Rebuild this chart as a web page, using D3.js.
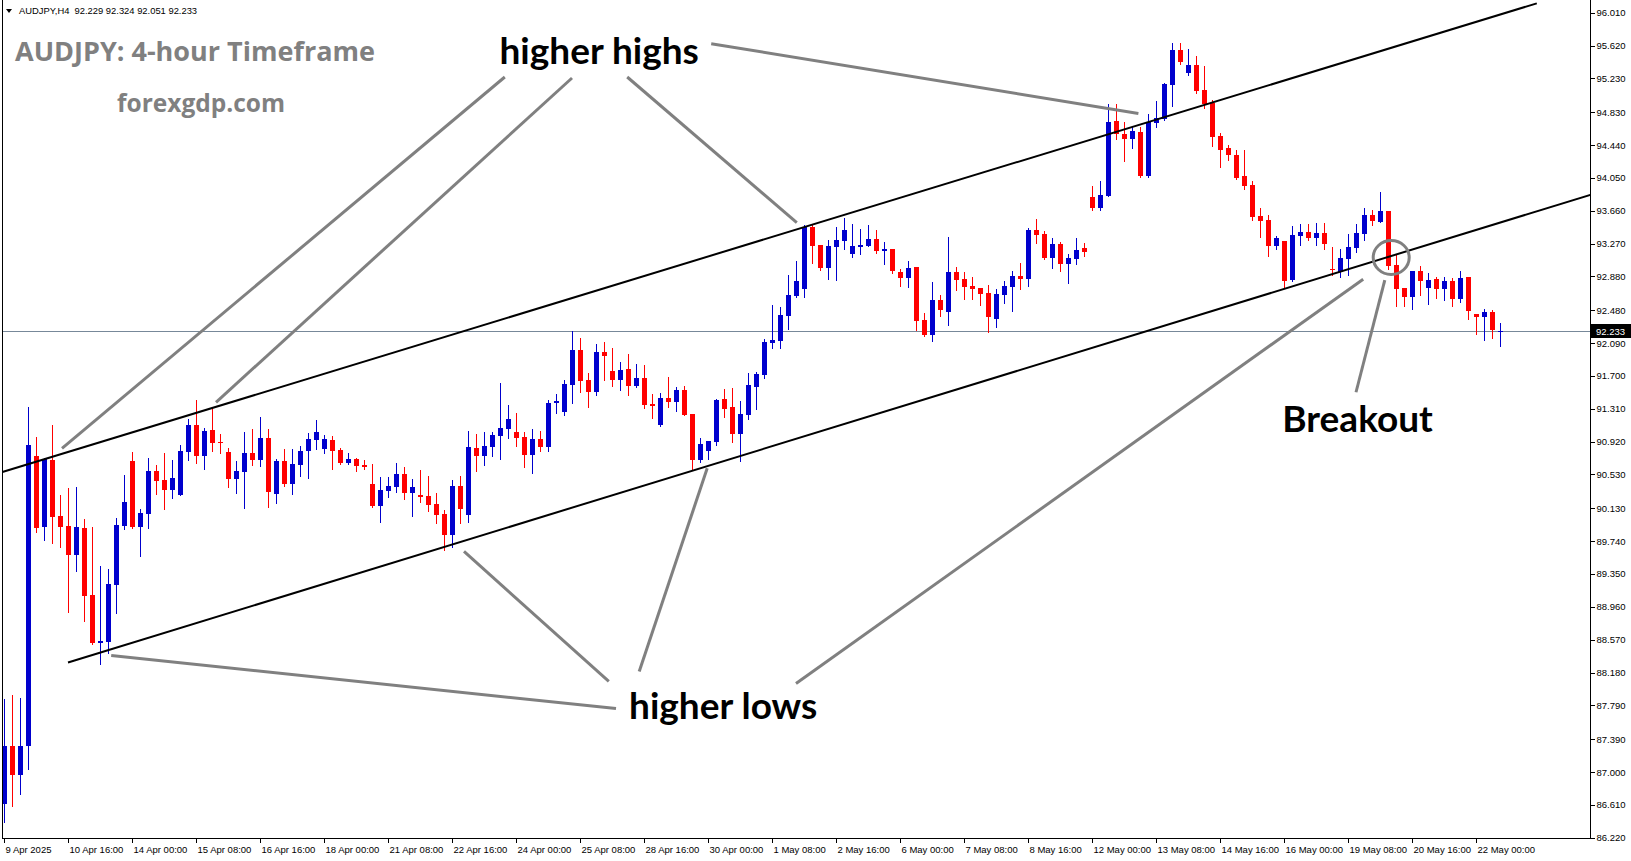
<!DOCTYPE html>
<html><head><meta charset="utf-8">
<script src="https://cdn.jsdelivr.net/npm/d3@7/dist/d3.min.js"></script>
<style>
html,body{margin:0;padding:0;background:#fff;overflow:hidden;}
svg{display:block;}
</style></head>
<body><svg id="chart" width="1631" height="861"></svg>
<script>
// ---------------- DATA ----------------
const headerText = "AUDJPY,H4  92.229 92.324 92.051 92.233";
const titleText = "AUDJPY: 4-hour Timeframe";
const siteText = "forexgdp.com";

const dateLabels = ["9 Apr 2025","10 Apr 16:00","14 Apr 00:00","15 Apr 08:00","16 Apr 16:00","18 Apr 00:00",
  "21 Apr 08:00","22 Apr 16:00","24 Apr 00:00","25 Apr 08:00","28 Apr 16:00","30 Apr 00:00","1 May 08:00",
  "2 May 16:00","6 May 00:00","7 May 08:00","8 May 16:00","12 May 00:00","13 May 08:00","14 May 16:00",
  "16 May 00:00","19 May 08:00","20 May 16:00","22 May 00:00"];
const barsPerDateLabel = 8;

const priceTicks = [96.010,95.620,95.230,94.830,94.440,94.050,93.660,93.270,92.880,92.480,92.090,91.700,
  91.310,90.920,90.530,90.130,89.740,89.350,88.960,88.570,88.180,87.790,87.390,87.000,86.610,86.220];

const opens = [86.624,87.314,86.969,87.314,90.746,89.902,90.698,90.033,89.914,89.570,89.890,89.095,88.536,88.548,89.213,89.914,90.687,89.902,90.057,90.568,
90.461,90.342,90.283,90.793,91.114,90.746,91.055,90.912,90.793,90.473,90.556,90.782,90.698,90.960,90.295,90.687,90.413,90.639,90.805,90.936,
90.829,90.936,90.817,90.663,90.710,90.639,90.413,90.152,90.330,90.378,90.532,90.307,90.283,90.271,90.175,90.057,89.807,90.390,90.045,90.841,
90.746,90.853,90.983,91.067,91.031,90.972,90.758,90.948,90.853,91.375,91.268,91.589,92.004,91.648,91.505,91.980,91.755,91.648,91.779,91.577,
91.672,91.363,91.114,91.434,91.387,91.529,91.245,90.698,90.805,90.912,91.422,91.328,91.007,91.233,91.565,91.707,92.087,92.111,92.408,92.646,
92.729,93.465,93.252,92.978,93.228,93.299,93.145,93.228,93.240,93.323,93.180,93.204,92.931,92.860,92.990,92.360,92.182,92.598,92.455,92.931,
92.848,92.765,92.741,92.682,92.372,92.658,92.753,92.883,92.848,93.430,93.382,93.097,93.263,93.026,93.085,93.216,93.821,93.691,93.833,94.724,
94.569,94.510,94.593,94.070,94.700,94.747,95.152,95.567,95.294,95.389,95.092,94.937,94.546,94.403,94.320,94.070,93.964,93.596,93.548,93.240,
93.299,92.836,93.358,93.406,93.335,93.394,92.967,92.931,93.085,93.216,93.382,93.608,93.525,93.655,93.014,92.741,92.634,92.943,92.741,92.848,
92.729,92.824,92.610,92.872,92.432,92.396,92.455,92.229];

const highs = [87.871,87.919,87.883,91.328,90.972,90.722,91.114,90.283,90.366,90.378,89.997,89.902,89.439,89.404,90.009,90.520,90.793,90.116,90.722,90.639,
90.782,90.698,90.877,91.185,91.411,91.078,91.328,91.007,90.841,90.687,91.031,91.067,91.209,91.067,90.710,90.829,90.829,90.865,91.019,91.173,
90.995,90.983,90.841,90.782,90.722,90.698,90.651,90.497,90.497,90.663,90.615,90.473,90.580,90.508,90.307,90.104,90.461,90.508,91.043,91.007,
91.031,91.031,91.612,91.352,91.257,91.031,91.067,91.043,91.411,91.482,91.648,92.230,92.147,91.731,92.075,92.099,92.028,91.862,91.957,91.838,
91.826,91.482,91.494,91.684,91.565,91.577,91.245,90.960,90.924,91.422,91.541,91.553,91.399,91.731,91.743,92.135,92.539,92.515,92.895,93.062,
93.489,93.489,93.252,93.311,93.465,93.572,93.501,93.442,93.489,93.430,93.287,93.204,92.967,93.062,92.990,92.444,92.812,92.658,93.347,92.990,
92.931,92.872,92.741,92.777,92.729,92.824,92.943,93.038,93.453,93.560,93.418,93.335,93.287,93.145,93.335,93.275,93.952,94.011,94.925,94.925,
94.712,94.664,94.652,94.807,94.961,95.175,95.650,95.650,95.579,95.496,95.377,94.973,94.581,94.439,94.379,94.379,94.011,93.691,93.608,93.358,
93.299,93.477,93.501,93.501,93.513,93.513,93.228,93.204,93.382,93.501,93.691,93.667,93.880,93.655,93.133,92.741,92.943,93.002,92.919,92.872,
92.872,92.860,92.943,92.872,92.432,92.491,92.479,92.324];

const lows = [86.411,86.601,86.744,87.040,89.843,89.748,89.712,89.665,88.904,89.380,88.786,88.524,88.287,88.417,88.892,89.878,89.890,89.558,89.890,90.295,
90.116,90.247,90.283,90.698,90.663,90.592,90.805,90.782,90.378,90.307,90.128,90.639,90.627,90.140,90.187,90.390,90.295,90.508,90.485,90.829,
90.782,90.592,90.651,90.651,90.568,90.592,90.140,89.962,90.259,90.318,90.235,90.033,90.199,90.092,89.950,89.629,89.665,89.950,89.962,90.568,
90.639,90.746,90.710,90.960,90.865,90.615,90.544,90.805,90.805,91.257,91.233,91.375,91.505,91.328,91.470,91.648,91.577,91.529,91.470,91.565,
91.316,91.197,91.102,91.328,91.280,91.233,90.592,90.675,90.710,90.877,91.209,90.912,90.687,91.185,91.304,91.672,92.028,92.028,92.254,92.634,
92.634,93.038,92.955,92.848,92.836,93.204,93.109,93.145,93.240,93.157,93.026,92.919,92.765,92.753,92.242,92.170,92.111,92.408,92.301,92.717,
92.610,92.610,92.539,92.218,92.277,92.562,92.467,92.729,92.765,93.275,93.085,92.978,92.943,92.800,93.026,93.121,93.667,93.667,93.833,94.510,
94.249,94.403,94.059,94.059,94.652,94.735,94.902,95.401,95.270,95.057,94.878,94.427,94.177,94.260,94.035,93.916,93.548,93.347,93.121,93.204,
92.753,92.824,93.252,93.311,93.252,93.204,92.895,92.872,92.895,93.168,93.311,93.489,93.525,92.967,92.527,92.527,92.491,92.658,92.550,92.622,
92.598,92.527,92.574,92.372,92.194,92.123,92.147,92.051];

const closes = [87.314,86.969,87.314,90.877,89.890,90.710,90.021,89.902,89.570,89.902,89.083,88.536,88.560,89.225,89.926,90.199,89.902,90.069,90.568,90.449,
90.342,90.485,90.805,91.114,90.746,91.043,90.900,90.900,90.473,90.568,90.782,90.698,90.960,90.318,90.687,90.413,90.651,90.805,90.948,91.031,
90.948,90.805,90.663,90.710,90.627,90.615,90.152,90.342,90.390,90.532,90.307,90.378,90.259,90.164,90.045,89.807,90.390,90.116,90.853,90.746,
90.865,90.995,91.078,91.185,90.960,90.758,90.948,90.853,91.375,91.399,91.600,92.004,91.636,91.505,91.980,91.933,91.648,91.767,91.577,91.672,
91.352,91.340,91.434,91.387,91.529,91.233,90.698,90.888,90.924,91.411,91.304,91.007,91.245,91.589,91.719,92.099,92.123,92.420,92.658,92.824,
93.465,93.240,92.978,93.240,93.311,93.430,93.240,93.252,93.323,93.180,93.204,92.943,92.860,92.978,92.349,92.182,92.598,92.479,92.931,92.836,
92.753,92.729,92.670,92.396,92.670,92.765,92.883,92.848,93.430,93.370,93.097,93.263,93.026,93.097,93.192,93.168,93.691,93.845,94.712,94.569,
94.510,94.605,94.070,94.712,94.759,95.163,95.567,95.425,95.389,95.080,94.925,94.534,94.379,94.320,94.047,93.952,93.584,93.537,93.240,93.335,
92.824,93.370,93.406,93.335,93.394,93.263,92.955,93.097,93.228,93.394,93.608,93.537,93.655,93.002,92.729,92.634,92.943,92.824,92.836,92.729,
92.824,92.610,92.860,92.467,92.396,92.455,92.242,92.233];

const lastPrice = 92.233;

// trend lines: [barIndex, price]
const upperChannel = [[-0.2, 90.559], [191.6, 96.121]];
const lowerChannel = [[8.0, 88.299], [198.3, 93.849]];

// pointer lines: from [barIndex, price] to [barIndex, price]
const pointerLines = [
  [[62.6, 95.247], [7.25, 90.841]],
  [[71.0, 95.235], [26.5, 91.387]],
  [[77.9, 95.247], [99.1, 93.519]],
  [[88.4, 95.642], [141.8, 94.815]],
  [[76.5, 87.753], [13.4, 88.382]],
  [[75.6, 88.074], [57.5, 89.617]],
  [[79.4, 88.193], [87.9, 90.603]],
  [[99.0, 88.050], [169.9, 92.848]],
  [[169.0, 91.506], [172.6, 92.836]]
];
const breakoutCircle = [173.4, 93.105];

const annotations = [
  {text: "higher highs", at: [74.4, 95.40]},
  {text: "higher lows",  at: [89.9, 87.63]},
  {text: "Breakout",     at: [169.2, 91.04]}
];

// ---------------- CHART ----------------
const W = 1631, H = 861;
const plotLeft = 2, plotRight = 1590, plotTop = 0, plotBottom = 838;
const svg = d3.select("#chart");

const x = d3.scaleLinear().domain([0, opens.length - 1]).range([4, 1500]);
const y = d3.scaleLinear().domain([86.220, 96.010]).range([837.7, 12.7]);

svg.append("rect").attr("width", W).attr("height", H).attr("fill", "#fff");

svg.append("defs").append("clipPath").attr("id", "plotClip")
  .append("rect").attr("x", plotLeft).attr("y", plotTop)
  .attr("width", plotRight - plotLeft).attr("height", plotBottom - plotTop);

const plot = svg.append("g").attr("clip-path", "url(#plotClip)");

// current price line
plot.append("line")
  .attr("x1", plotLeft).attr("x2", plotRight)
  .attr("y1", Math.round(y(lastPrice)) + 0.5).attr("y2", Math.round(y(lastPrice)) + 0.5)
  .attr("stroke", "#778899").attr("stroke-width", 1).attr("shape-rendering", "crispEdges");

// candles
const candles = opens.map((o, i) => ({i, o, h: highs[i], l: lows[i], c: closes[i]}));
const colorUp = "#0000CD", colorDown = "#FF0000";
const cg = plot.append("g").attr("shape-rendering", "crispEdges");
const cand = cg.selectAll("g.c").data(candles).join("g").attr("class", "c");
cand.append("line")
  .attr("x1", d => Math.round(x(d.i)) + 0.5).attr("x2", d => Math.round(x(d.i)) + 0.5)
  .attr("y1", d => Math.round(y(d.h))).attr("y2", d => Math.round(y(d.l)) + 1)
  .attr("stroke", d => d.c >= d.o ? colorUp : colorDown).attr("stroke-width", 1);
cand.append("rect")
  .attr("x", d => Math.round(x(d.i)) - 2)
  .attr("width", 5)
  .attr("y", d => Math.round(y(Math.max(d.o, d.c))))
  .attr("height", d => Math.max(1, Math.round(y(Math.min(d.o, d.c))) - Math.round(y(Math.max(d.o, d.c)))))
  .attr("fill", d => d.c >= d.o ? colorUp : colorDown);

// channel lines
const lineGen = d3.line().x(d => x(d[0])).y(d => y(d[1]));
[upperChannel, lowerChannel].forEach(seg => {
  plot.append("path").attr("d", lineGen(seg))
    .attr("stroke", "#000").attr("stroke-width", 2).attr("fill", "none");
});

// pointer lines
pointerLines.forEach(seg => {
  plot.append("path").attr("d", lineGen(seg))
    .attr("stroke", "#808080").attr("stroke-width", 3).attr("fill", "none");
});
plot.append("ellipse")
  .attr("cx", x(breakoutCircle[0])).attr("cy", y(breakoutCircle[1]))
  .attr("rx", 18).attr("ry", 17)
  .attr("stroke", "#808080").attr("stroke-width", 3).attr("fill", "none");

// annotation text
plot.selectAll("text.ann").data(annotations).join("text").attr("class", "ann")
  .attr("x", d => x(d.at[0])).attr("y", d => y(d.at[1]))
  .attr("text-anchor", "middle")
  .attr("font-family", "Lato, 'Open Sans', sans-serif").attr("font-weight", "bold")
  .attr("font-size", 37).attr("fill", "#000")
  .text(d => d.text);

// titles
svg.append("text").attr("x", 15).attr("y", 61)
  .attr("font-family", "'Open Sans', sans-serif").attr("font-weight", "bold")
  .attr("font-size", 27).attr("fill", "#808080").text(titleText);
svg.append("text").attr("x", 117).attr("y", 112)
  .attr("font-family", "'Open Sans', sans-serif").attr("font-weight", "bold")
  .attr("font-size", 24.5).attr("fill", "#808080").text(siteText);

// header
svg.append("path").attr("d", "M6,9 L12,9 L9,13 Z").attr("fill", "#000");
svg.append("text").attr("x", 19).attr("y", 14)
  .attr("font-family", "'Liberation Sans', sans-serif").attr("font-size", 9.4)
  .attr("fill", "#000").attr("xml:space", "preserve").style("white-space", "pre").text(headerText);

// frame
const frame = svg.append("g").attr("shape-rendering", "crispEdges").attr("stroke", "#000").attr("stroke-width", 1);
frame.append("line").attr("x1", plotLeft + 0.5).attr("x2", plotLeft + 0.5).attr("y1", 0).attr("y2", plotBottom);
frame.append("line").attr("x1", plotRight + 0.5).attr("x2", plotRight + 0.5).attr("y1", 0).attr("y2", plotBottom + 1);
frame.append("line").attr("x1", plotLeft).attr("x2", plotRight + 1).attr("y1", plotBottom + 0.5).attr("y2", plotBottom + 0.5);

// price axis
const yAxis = d3.axisRight(y).tickValues(priceTicks).tickFormat(d3.format(".3f")).tickSize(4).tickPadding(2);
const ya = svg.append("g").attr("transform", `translate(${plotRight + 0.5},0)`).call(yAxis);
ya.select(".domain").remove();
ya.selectAll("line").attr("shape-rendering", "crispEdges");
ya.selectAll("text").attr("font-family", "'Liberation Sans', sans-serif").attr("font-size", 9.5).attr("fill", "#000");

// last price label
const lp = svg.append("g");
lp.append("rect").attr("x", plotRight + 1).attr("y", Math.round(y(lastPrice)) - 7)
  .attr("width", W - plotRight - 1).attr("height", 14).attr("fill", "#000");
lp.append("text").attr("x", plotRight + 6).attr("y", Math.round(y(lastPrice)) + 4)
  .attr("font-family", "'Liberation Sans', sans-serif").attr("font-size", 9.5)
  .attr("fill", "#fff").text(d3.format(".3f")(lastPrice));

// time axis
const xTicks = dateLabels.map((_, k) => k * barsPerDateLabel);
const xAxis = d3.axisBottom(x).tickValues(xTicks).tickFormat((d, k) => dateLabels[k]).tickSize(4).tickPadding(4);
const xa = svg.append("g").attr("transform", `translate(0,${plotBottom + 0.5})`).call(xAxis);
xa.select(".domain").remove();
xa.selectAll("line").attr("shape-rendering", "crispEdges");
xa.selectAll("text").attr("font-family", "'Liberation Sans', sans-serif").attr("font-size", 9.5)
  .attr("fill", "#000").attr("text-anchor", "start").attr("dx", 1);
</script>
</body></html>
